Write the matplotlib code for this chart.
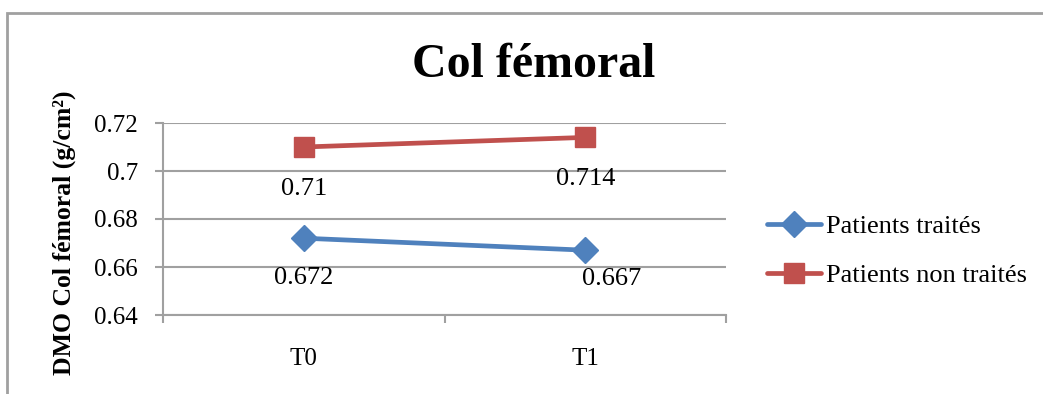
import matplotlib
matplotlib.use("Agg")
import matplotlib.pyplot as plt
from matplotlib.patches import Rectangle

plt.rcParams['font.family'] = ['Liberation Serif', 'DejaVu Serif']

categories = ["T0", "T1"]
treated = [0.672, 0.667]
untreated = [0.71, 0.714]
series_names = ["Patients traités", "Patients non traités"]
title = "Col fémoral"
ylabel = "DMO Col fémoral (g/cm²)"

blue = "#4F81BD"
red = "#C0504D"
grid_c = "#a0a0a0"

fig = plt.figure(figsize=(10.43, 3.94), dpi=100)
ax = fig.add_axes([163/1043, 1-315/394, (726-163)/1043, (315-123)/394])

x = [0, 1]
ax.plot(x, treated, color=blue, lw=3.4, marker="D", ms=13, label=series_names[0],
        solid_capstyle="round")
ax.plot(x, untreated, color=red, lw=3.4, marker="s", ms=14, label=series_names[1],
        solid_capstyle="round")

# data labels under the points (offsets in points, as Excel placed them)
lab_treated = [(0, -21), (19, -13)]
lab_untreated = [(0, -22), (0, -22)]
for i, v in enumerate(treated):
    ax.annotate(f"{v:g}", (x[i], v), xytext=lab_treated[i],
                textcoords="offset points", ha="center", va="top", fontsize=19)
for i, v in enumerate(untreated):
    ax.annotate(f"{v:g}", (x[i], v), xytext=lab_untreated[i],
                textcoords="offset points", ha="center", va="top", fontsize=19)

ax.set_xlim(-0.5, 1.5)
ax.set_ylim(0.64, 0.72)
ax.set_yticks([0.64, 0.66, 0.68, 0.70, 0.72])
ax.set_yticklabels(["0.64", "0.66", "0.68", "0.7", "0.72"], fontsize=18)
ax.set_xticks(x)
ax.set_xticklabels(categories, fontsize=18)
ax.tick_params(axis="x", length=0, pad=24)
ax.set_xticks([-0.5, 0.5, 1.5], minor=True)
ax.tick_params(axis="x", which="minor", length=6, color=grid_c, width=1.5, direction="out")
ax.tick_params(axis="y", length=6, color=grid_c, width=1.5, pad=12)
ax.grid(axis="y", color=grid_c, lw=1.5)
ax.set_axisbelow(True)
for s in ["top", "right"]:
    ax.spines[s].set_visible(False)
for s in ["left", "bottom"]:
    ax.spines[s].set_color(grid_c)
    ax.spines[s].set_linewidth(1.5)

ax.set_ylabel(ylabel, fontsize=18.5, fontweight="bold", va="center")
ax.yaxis.set_label_coords(-0.176, 0.427)
fig.text(534/1043, 1-65/394, title, fontsize=34.5, fontweight="bold", ha="center", va="center")

ax.legend(loc="center left", bbox_to_anchor=(767/1043, 1-251/394), bbox_transform=fig.transFigure,
          frameon=False, fontsize=19, handlelength=2.05, handletextpad=0.2, labelspacing=0.95,
          borderaxespad=0, borderpad=0)

fig.patches.append(Rectangle((7/1043, -0.1), 1.2, 1-13/394 + 0.1, transform=fig.transFigure,
                             fill=False, ec="#a0a0a0", lw=2))

fig.savefig("out.png", dpi=100)
